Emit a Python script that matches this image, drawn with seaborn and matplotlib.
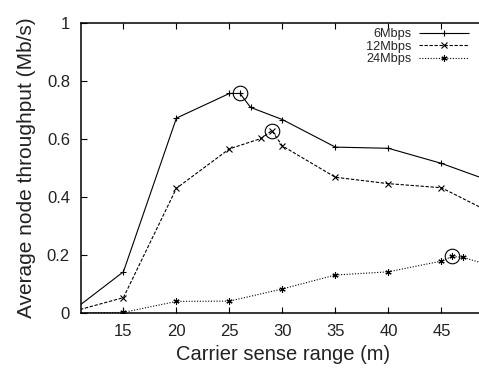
import numpy as np
import pandas as pd
import matplotlib
matplotlib.use('Agg')
import matplotlib.pyplot as plt
import seaborn as sns

# ── data ─────────────────────────────────────────────────────
x_6 = [10, 15, 20, 25, 26, 27, 30, 35, 40, 45, 50]
y_6 = [0.002, 0.142, 0.672, 0.757, 0.757, 0.709, 0.667, 0.572, 0.568, 0.516, 0.45]

x_12 = [10, 15, 20, 25, 28, 29, 30, 35, 40, 45, 50]
y_12 = [0.003, 0.053, 0.430, 0.566, 0.602, 0.629, 0.576, 0.468, 0.446, 0.432, 0.34]

x_24 = [10, 15, 20, 25, 30, 35, 40, 45, 46, 47, 50]
y_24 = [0.0, 0.002, 0.040, 0.041, 0.083, 0.131, 0.142, 0.179, 0.195, 0.192, 0.16]

rates = ['6Mbps', '12Mbps', '24Mbps']
peak_x = {'6Mbps': 26, '12Mbps': 29, '24Mbps': 46}

df = pd.concat([
    pd.DataFrame({'range': x_6, 'thr': y_6, 'rate': '6Mbps'}),
    pd.DataFrame({'range': x_12, 'thr': y_12, 'rate': '12Mbps'}),
    pd.DataFrame({'range': x_24, 'thr': y_24, 'rate': '24Mbps'}),
])

sns.set_style('ticks')
plt.rcParams['font.family'] = ['Liberation Sans', 'DejaVu Sans']

fig = plt.figure(figsize=(4.79, 3.69), dpi=100)
# axes runs past the right edge of the picture, like the cropped original
ax = fig.add_axes([81 / 479, 56 / 369, (494.4 - 81) / 479, 290 / 369])

sns.lineplot(data=df, x='range', y='thr', hue='rate', style='rate',
             hue_order=rates, style_order=rates,
             palette=['black'] * 3,
             markers={'6Mbps': '+', '12Mbps': 'x', '24Mbps': (6, 2, 0)},
             dashes={'6Mbps': (1, 0), '12Mbps': (3, 1.5), '24Mbps': (1, 1.5)},
             markersize=4.5, markeredgewidth=0.8, markeredgecolor='black',
             linewidth=0.8, ax=ax, sort=False, estimator=None)

# circle around each curve's peak
for rate in rates:
    sub = df[df['rate'] == rate]
    py = sub.loc[sub['range'] == peak_x[rate], 'thr'].iloc[0]
    ax.plot(peak_x[rate], py, 'o', mfc='none', mec='black', ms=10.5, mew=0.8)

ax.set_xlim(11, 50)
ax.set_ylim(0, 1)
ax.set_xticks([15, 20, 25, 30, 35, 40, 45])
ax.set_yticks([0, 0.2, 0.4, 0.6, 0.8, 1])
ax.set_yticklabels(['0', '0.2', '0.4', '0.6', '0.8', '1'])
ax.tick_params(direction='in', top=True, right=True, length=4, width=0.8,
               labelsize=12, pad=8, colors='black', labelcolor='#222222')
for s in ax.spines.values():
    s.set_linewidth(1.1)
    s.set_color('black')

ax.set_xlabel('Carrier sense range (m)', fontsize=14.5, color='#222222',
              va='top')
ax.set_ylabel('Average node throughput (Mb/s)', fontsize=15, color='#222222',
              va='center')
ax.xaxis.set_label_coords((283 - 81) / (494.4 - 81), -(345 - 313) / 290)
ax.yaxis.set_label_coords(-(81 - 27) / (494.4 - 81), (313 - 168) / 290)

handles, labels = ax.get_legend_handles_labels()
ax.legend(handles[-3:], labels[-3:], loc='upper right',
          bbox_to_anchor=(469 / 479, 1 - 28 / 369), bbox_transform=fig.transFigure,
          frameon=False, markerfirst=False, fontsize=9.2, handlelength=3.9,
          handletextpad=0.6, labelspacing=0.05, borderaxespad=0, borderpad=0)

plt.savefig('out.png', dpi=100)
